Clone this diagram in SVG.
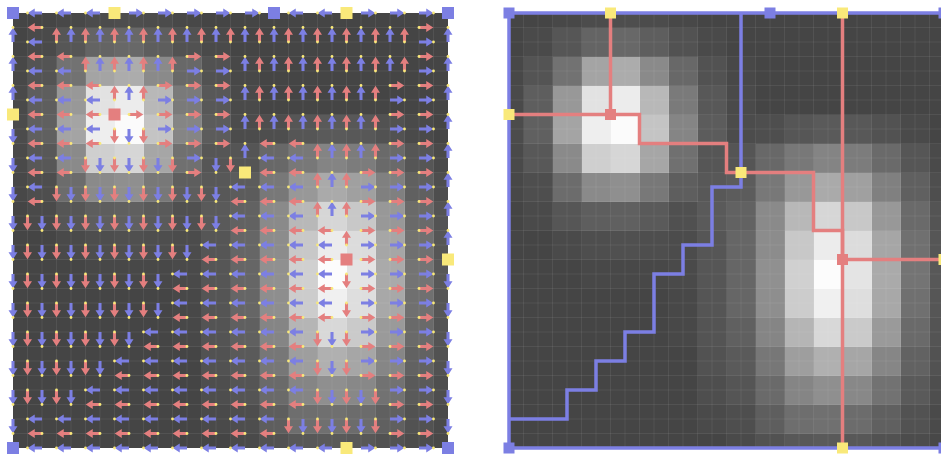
<svg xmlns="http://www.w3.org/2000/svg" width="941" height="455" viewBox="0 0 941 455">
<style>
.bl{fill:#7c7fe3}
.rd{fill:#e47f7f}
.ye{fill:#f9e97a}
.grid{fill:none;stroke:#ffffff;stroke-opacity:.07;stroke-width:1}
.msb{fill:none;stroke:#7c7fe3;stroke-width:3.5}
.msr{fill:none;stroke:#e47f7f;stroke-width:3.5}
</style>
<defs>
<clipPath id="cl"><rect x="13" y="13" width="435" height="435"/></clipPath>
<clipPath id="cr"><rect x="509" y="13" width="435" height="435"/></clipPath>
<g id="img" shape-rendering="crispEdges">
<rect x="-14.5" y="-14.5" width="464" height="464" fill="#454545"/>
<g transform="translate(0 -14.5)"><rect x="43.5" width="29" height="29" fill="#484848"/><rect x="72.5" width="29" height="29" fill="#4c4c4c"/><rect x="101.5" width="29" height="29" fill="#4e4e4e"/><rect x="130.5" width="29" height="29" fill="#4c4c4c"/><rect x="159.5" width="29" height="29" fill="#484848"/></g>
<g transform="translate(0 14.5)"><rect x="14.5" width="29" height="29" fill="#4a4a4a"/><rect x="43.5" width="29" height="29" fill="#565656"/><rect x="72.5" width="29" height="29" fill="#646464"/><rect x="101.5" width="29" height="29" fill="#686868"/><rect x="130.5" width="29" height="29" fill="#5e5e5e"/><rect x="159.5" width="29" height="29" fill="#525252"/><rect x="188.5" width="29" height="29" fill="#4a4a4a"/></g>
<g transform="translate(0 43.5)"><rect x="-14.5" width="29" height="29" fill="#484848"/><rect x="14.5" width="29" height="29" fill="#545454"/><rect x="43.5" width="29" height="29" fill="#727272"/><rect x="72.5" width="29" height="29" fill="#a4a4a4"/><rect x="101.5" width="29" height="29" fill="#acacac"/><rect x="130.5" width="29" height="29" fill="#8a8a8a"/><rect x="159.5" width="29" height="29" fill="#686868"/><rect x="188.5" width="29" height="29" fill="#525252"/><rect x="217.5" width="29" height="29" fill="#484848"/></g>
<g transform="translate(0 72.5)"><rect x="-14.5" width="29" height="29" fill="#4a4a4a"/><rect x="14.5" width="29" height="29" fill="#5e5e5e"/><rect x="43.5" width="29" height="29" fill="#989898"/><rect x="72.5" width="29" height="29" fill="#e2e2e2"/><rect x="101.5" width="29" height="29" fill="#ececec"/><rect x="130.5" width="29" height="29" fill="#b8b8b8"/><rect x="159.5" width="29" height="29" fill="#7a7a7a"/><rect x="188.5" width="29" height="29" fill="#585858"/><rect x="217.5" width="29" height="29" fill="#4a4a4a"/></g>
<g transform="translate(0 101.5)"><rect x="-14.5" width="29" height="29" fill="#4c4c4c"/><rect x="14.5" width="29" height="29" fill="#606060"/><rect x="43.5" width="29" height="29" fill="#a4a4a4"/><rect x="72.5" width="29" height="29" fill="#eeeeee"/><rect x="101.5" width="29" height="29" fill="#fbfbfb"/><rect x="130.5" width="29" height="29" fill="#c4c4c4"/><rect x="159.5" width="29" height="29" fill="#858585"/><rect x="188.5" width="29" height="29" fill="#5c5c5c"/><rect x="217.5" width="29" height="29" fill="#4c4c4c"/><rect x="246.5" width="29" height="29" fill="#4e4e4e"/><rect x="275.5" width="29" height="29" fill="#565656"/><rect x="304.5" width="29" height="29" fill="#5a5a5a"/><rect x="333.5" width="29" height="29" fill="#585858"/><rect x="362.5" width="29" height="29" fill="#525252"/><rect x="391.5" width="29" height="29" fill="#4a4a4a"/></g>
<g transform="translate(0 130.5)"><rect x="-14.5" width="29" height="29" fill="#4a4a4a"/><rect x="14.5" width="29" height="29" fill="#585858"/><rect x="43.5" width="29" height="29" fill="#8a8a8a"/><rect x="72.5" width="29" height="29" fill="#cfcfcf"/><rect x="101.5" width="29" height="29" fill="#d6d6d6"/><rect x="130.5" width="29" height="29" fill="#a6a6a6"/><rect x="159.5" width="29" height="29" fill="#707070"/><rect x="188.5" width="29" height="29" fill="#565656"/><rect x="217.5" width="29" height="29" fill="#555555"/><rect x="246.5" width="29" height="29" fill="#686868"/><rect x="275.5" width="29" height="29" fill="#787878"/><rect x="304.5" width="29" height="29" fill="#848484"/><rect x="333.5" width="29" height="29" fill="#7c7c7c"/><rect x="362.5" width="29" height="29" fill="#6a6a6a"/><rect x="391.5" width="29" height="29" fill="#565656"/><rect x="420.5" width="29" height="29" fill="#4a4a4a"/></g>
<g transform="translate(0 159.5)"><rect x="-14.5" width="29" height="29" fill="#484848"/><rect x="14.5" width="29" height="29" fill="#4e4e4e"/><rect x="43.5" width="29" height="29" fill="#6c6c6c"/><rect x="72.5" width="29" height="29" fill="#8a8a8a"/><rect x="101.5" width="29" height="29" fill="#8f8f8f"/><rect x="130.5" width="29" height="29" fill="#787878"/><rect x="159.5" width="29" height="29" fill="#5e5e5e"/><rect x="188.5" width="29" height="29" fill="#585858"/><rect x="217.5" width="29" height="29" fill="#5c5c5c"/><rect x="246.5" width="29" height="29" fill="#787878"/><rect x="275.5" width="29" height="29" fill="#989898"/><rect x="304.5" width="29" height="29" fill="#aaaaaa"/><rect x="333.5" width="29" height="29" fill="#a0a0a0"/><rect x="362.5" width="29" height="29" fill="#808080"/><rect x="391.5" width="29" height="29" fill="#606060"/><rect x="420.5" width="29" height="29" fill="#4e4e4e"/></g>
<g transform="translate(0 188.5)"><rect x="14.5" width="29" height="29" fill="#4a4a4a"/><rect x="43.5" width="29" height="29" fill="#565656"/><rect x="72.5" width="29" height="29" fill="#5e5e5e"/><rect x="101.5" width="29" height="29" fill="#606060"/><rect x="130.5" width="29" height="29" fill="#5a5a5a"/><rect x="159.5" width="29" height="29" fill="#505050"/><rect x="188.5" width="29" height="29" fill="#5a5a5a"/><rect x="217.5" width="29" height="29" fill="#626262"/><rect x="246.5" width="29" height="29" fill="#8a8a8a"/><rect x="275.5" width="29" height="29" fill="#b8b8b8"/><rect x="304.5" width="29" height="29" fill="#d6d6d6"/><rect x="333.5" width="29" height="29" fill="#c8c8c8"/><rect x="362.5" width="29" height="29" fill="#989898"/><rect x="391.5" width="29" height="29" fill="#6a6a6a"/><rect x="420.5" width="29" height="29" fill="#545454"/></g>
<g transform="translate(0 217.5)"><rect x="43.5" width="29" height="29" fill="#4a4a4a"/><rect x="72.5" width="29" height="29" fill="#4e4e4e"/><rect x="101.5" width="29" height="29" fill="#505050"/><rect x="130.5" width="29" height="29" fill="#4e4e4e"/><rect x="159.5" width="29" height="29" fill="#4c4c4c"/><rect x="188.5" width="29" height="29" fill="#565656"/><rect x="217.5" width="29" height="29" fill="#666666"/><rect x="246.5" width="29" height="29" fill="#8c8c8c"/><rect x="275.5" width="29" height="29" fill="#c8c8c8"/><rect x="304.5" width="29" height="29" fill="#ececec"/><rect x="333.5" width="29" height="29" fill="#dcdcdc"/><rect x="362.5" width="29" height="29" fill="#a6a6a6"/><rect x="391.5" width="29" height="29" fill="#707070"/><rect x="420.5" width="29" height="29" fill="#565656"/></g>
<g transform="translate(0 246.5)"><rect x="72.5" width="29" height="29" fill="#484848"/><rect x="101.5" width="29" height="29" fill="#484848"/><rect x="130.5" width="29" height="29" fill="#484848"/><rect x="159.5" width="29" height="29" fill="#4a4a4a"/><rect x="188.5" width="29" height="29" fill="#565656"/><rect x="217.5" width="29" height="29" fill="#666666"/><rect x="246.5" width="29" height="29" fill="#909090"/><rect x="275.5" width="29" height="29" fill="#d0d0d0"/><rect x="304.5" width="29" height="29" fill="#fcfcfc"/><rect x="333.5" width="29" height="29" fill="#e4e4e4"/><rect x="362.5" width="29" height="29" fill="#aaaaaa"/><rect x="391.5" width="29" height="29" fill="#747474"/><rect x="420.5" width="29" height="29" fill="#585858"/></g>
<g transform="translate(0 275.5)"><rect x="159.5" width="29" height="29" fill="#484848"/><rect x="188.5" width="29" height="29" fill="#555555"/><rect x="217.5" width="29" height="29" fill="#666666"/><rect x="246.5" width="29" height="29" fill="#8e8e8e"/><rect x="275.5" width="29" height="29" fill="#cccccc"/><rect x="304.5" width="29" height="29" fill="#f0f0f0"/><rect x="333.5" width="29" height="29" fill="#dedede"/><rect x="362.5" width="29" height="29" fill="#a8a8a8"/><rect x="391.5" width="29" height="29" fill="#707070"/><rect x="420.5" width="29" height="29" fill="#565656"/></g>
<g transform="translate(0 304.5)"><rect x="159.5" width="29" height="29" fill="#484848"/><rect x="188.5" width="29" height="29" fill="#545454"/><rect x="217.5" width="29" height="29" fill="#606060"/><rect x="246.5" width="29" height="29" fill="#858585"/><rect x="275.5" width="29" height="29" fill="#b5b5b5"/><rect x="304.5" width="29" height="29" fill="#d8d8d8"/><rect x="333.5" width="29" height="29" fill="#cacaca"/><rect x="362.5" width="29" height="29" fill="#9a9a9a"/><rect x="391.5" width="29" height="29" fill="#6a6a6a"/><rect x="420.5" width="29" height="29" fill="#545454"/></g>
<g transform="translate(0 333.5)"><rect x="188.5" width="29" height="29" fill="#525252"/><rect x="217.5" width="29" height="29" fill="#5a5a5a"/><rect x="246.5" width="29" height="29" fill="#777777"/><rect x="275.5" width="29" height="29" fill="#9e9e9e"/><rect x="304.5" width="29" height="29" fill="#b0b0b0"/><rect x="333.5" width="29" height="29" fill="#a6a6a6"/><rect x="362.5" width="29" height="29" fill="#868686"/><rect x="391.5" width="29" height="29" fill="#626262"/><rect x="420.5" width="29" height="29" fill="#525252"/></g>
<g transform="translate(0 362.5)"><rect x="188.5" width="29" height="29" fill="#4e4e4e"/><rect x="217.5" width="29" height="29" fill="#555555"/><rect x="246.5" width="29" height="29" fill="#6a6a6a"/><rect x="275.5" width="29" height="29" fill="#858585"/><rect x="304.5" width="29" height="29" fill="#8f8f8f"/><rect x="333.5" width="29" height="29" fill="#888888"/><rect x="362.5" width="29" height="29" fill="#727272"/><rect x="391.5" width="29" height="29" fill="#5a5a5a"/><rect x="420.5" width="29" height="29" fill="#4e4e4e"/></g>
<g transform="translate(0 391.5)"><rect x="188.5" width="29" height="29" fill="#4a4a4a"/><rect x="217.5" width="29" height="29" fill="#4e4e4e"/><rect x="246.5" width="29" height="29" fill="#5e5e5e"/><rect x="275.5" width="29" height="29" fill="#6e6e6e"/><rect x="304.5" width="29" height="29" fill="#707070"/><rect x="333.5" width="29" height="29" fill="#6c6c6c"/><rect x="362.5" width="29" height="29" fill="#606060"/><rect x="391.5" width="29" height="29" fill="#525252"/><rect x="420.5" width="29" height="29" fill="#4a4a4a"/></g>
<g transform="translate(0 420.5)"><rect x="217.5" width="29" height="29" fill="#4a4a4a"/><rect x="246.5" width="29" height="29" fill="#525252"/><rect x="275.5" width="29" height="29" fill="#585858"/><rect x="304.5" width="29" height="29" fill="#5a5a5a"/><rect x="333.5" width="29" height="29" fill="#585858"/><rect x="362.5" width="29" height="29" fill="#525252"/><rect x="391.5" width="29" height="29" fill="#4c4c4c"/><rect x="420.5" width="29" height="29" fill="#484848"/></g>
</g>
<path id="gl" class="grid" d="M14.5 0V435M29 0V435M43.5 0V435M58 0V435M72.5 0V435M87 0V435M101.5 0V435M116 0V435M130.5 0V435M145 0V435M159.5 0V435M174 0V435M188.5 0V435M203 0V435M217.5 0V435M232 0V435M246.5 0V435M261 0V435M275.5 0V435M290 0V435M304.5 0V435M319 0V435M333.5 0V435M348 0V435M362.5 0V435M377 0V435M391.5 0V435M406 0V435M420.5 0V435M0 14.5H435M0 29H435M0 43.5H435M0 58H435M0 72.5H435M0 87H435M0 101.5H435M0 116H435M0 130.5H435M0 145H435M0 159.5H435M0 174H435M0 188.5H435M0 203H435M0 217.5H435M0 232H435M0 246.5H435M0 261H435M0 275.5H435M0 290H435M0 304.5H435M0 319H435M0 333.5H435M0 348H435M0 362.5H435M0 377H435M0 391.5H435M0 406H435M0 420.5H435"/>
<path id="l" d="M0-.105H-.5V-.31L-.985 0-.5.31V.105H0Z"/>
<path id="r" d="M0-.105H.5V-.31L.985 0 .5.31V.105H0Z"/>
<path id="u" d="M-.105 0V-.5H-.31L0-.985 .31-.5H.105V0Z"/>
<path id="d" d="M-.105 0V.5H-.31L0 .985 .31.5H.105V0Z"/>
<path id="L" d="M1-.105H.5V-.31L.015 0 .5.31V.105H1Z"/>
<path id="R" d="M-1-.105H-.5V-.31L-.015 0-.5.31V.105H-1Z"/>
<path id="U" d="M-.105 1V.5H-.31L0 .015 .31.5H.105V1Z"/>
<path id="D" d="M-.105-1V-.5H-.31L0-.015 .31-.5H.105V-1Z"/>
<rect id="m" x="-6" y="-6" width="12" height="12"/>
<rect id="n" x="-5.5" y="-5.5" width="11" height="11"/>
<pattern id="dots" patternUnits="userSpaceOnUse" x="13" y="13" width="29" height="29">
<g class="ye"><circle cx="14.5" cy="0" r="1.4"/><circle cx="14.5" cy="29" r="1.4"/><circle cx="0" cy="14.5" r="1.4"/><circle cx="29" cy="14.5" r="1.4"/></g>
</pattern>
</defs>
<rect width="941" height="455" fill="#ffffff"/>
<g id="gradient-field">
<g id="left-image" clip-path="url(#cl)"><use href="#img" x="13" y="13"/><use href="#gl" x="13" y="13"/></g>
<g id="arrows" transform="translate(13 13) scale(14.5)">
<g id="vertex-edge-arrows" class="bl">
<g><use href="#l" x="2"/><use href="#l" x="4"/><use href="#l" x="6"/><use href="#r" x="8"/><use href="#r" x="10"/><use href="#r" x="12"/><use href="#r" x="14"/><use href="#r" x="16"/><use href="#l" x="20"/><use href="#l" x="22"/><use href="#r" x="24"/><use href="#r" x="26"/><use href="#r" x="28"/></g>
<g transform="translate(0 2)"><use href="#u" x="0"/><use href="#l" x="2"/><use href="#u" x="4"/><use href="#u" x="6"/><use href="#u" x="8"/><use href="#u" x="10"/><use href="#u" x="12"/><use href="#u" x="14"/><use href="#u" x="16"/><use href="#u" x="18"/><use href="#u" x="20"/><use href="#u" x="22"/><use href="#u" x="24"/><use href="#u" x="26"/><use href="#r" x="28"/><use href="#u" x="30"/></g>
<g transform="translate(0 4)"><use href="#u" x="0"/><use href="#l" x="2"/><use href="#l" x="4"/><use href="#u" x="6"/><use href="#u" x="8"/><use href="#u" x="10"/><use href="#r" x="12"/><use href="#r" x="14"/><use href="#u" x="16"/><use href="#u" x="18"/><use href="#u" x="20"/><use href="#u" x="22"/><use href="#u" x="24"/><use href="#u" x="26"/><use href="#r" x="28"/><use href="#u" x="30"/></g>
<g transform="translate(0 6)"><use href="#u" x="0"/><use href="#l" x="2"/><use href="#l" x="4"/><use href="#l" x="6"/><use href="#u" x="8"/><use href="#r" x="10"/><use href="#r" x="12"/><use href="#r" x="14"/><use href="#u" x="16"/><use href="#u" x="18"/><use href="#u" x="20"/><use href="#u" x="22"/><use href="#u" x="24"/><use href="#r" x="26"/><use href="#r" x="28"/><use href="#u" x="30"/></g>
<g transform="translate(0 8)"><use href="#d" x="0"/><use href="#l" x="2"/><use href="#l" x="4"/><use href="#l" x="6"/><use href="#d" x="8"/><use href="#r" x="10"/><use href="#r" x="12"/><use href="#r" x="14"/><use href="#u" x="16"/><use href="#u" x="18"/><use href="#u" x="20"/><use href="#u" x="22"/><use href="#u" x="24"/><use href="#r" x="26"/><use href="#r" x="28"/><use href="#u" x="30"/></g>
<g transform="translate(0 10)"><use href="#d" x="0"/><use href="#l" x="2"/><use href="#l" x="4"/><use href="#d" x="6"/><use href="#d" x="8"/><use href="#d" x="10"/><use href="#r" x="12"/><use href="#d" x="14"/><use href="#u" x="16"/><use href="#l" x="18"/><use href="#l" x="20"/><use href="#u" x="22"/><use href="#u" x="24"/><use href="#r" x="26"/><use href="#r" x="28"/><use href="#u" x="30"/></g>
<g transform="translate(0 12)"><use href="#d" x="0"/><use href="#l" x="2"/><use href="#d" x="4"/><use href="#d" x="6"/><use href="#d" x="8"/><use href="#d" x="10"/><use href="#d" x="12"/><use href="#d" x="14"/><use href="#l" x="16"/><use href="#l" x="18"/><use href="#l" x="20"/><use href="#u" x="22"/><use href="#r" x="24"/><use href="#r" x="26"/><use href="#r" x="28"/><use href="#u" x="30"/></g>
<g transform="translate(0 14)"><use href="#d" x="0"/><use href="#d" x="2"/><use href="#d" x="4"/><use href="#d" x="6"/><use href="#d" x="8"/><use href="#d" x="10"/><use href="#d" x="12"/><use href="#d" x="14"/><use href="#l" x="16"/><use href="#l" x="18"/><use href="#l" x="20"/><use href="#u" x="22"/><use href="#r" x="24"/><use href="#r" x="26"/><use href="#r" x="28"/><use href="#u" x="30"/></g>
<g transform="translate(0 16)"><use href="#d" x="0"/><use href="#d" x="2"/><use href="#d" x="4"/><use href="#d" x="6"/><use href="#d" x="8"/><use href="#d" x="10"/><use href="#d" x="12"/><use href="#l" x="14"/><use href="#l" x="16"/><use href="#l" x="18"/><use href="#l" x="20"/><use href="#l" x="22"/><use href="#r" x="24"/><use href="#r" x="26"/><use href="#r" x="28"/><use href="#u" x="30"/></g>
<g transform="translate(0 18)"><use href="#d" x="0"/><use href="#d" x="2"/><use href="#d" x="4"/><use href="#d" x="6"/><use href="#d" x="8"/><use href="#d" x="10"/><use href="#l" x="12"/><use href="#l" x="14"/><use href="#l" x="16"/><use href="#l" x="18"/><use href="#l" x="20"/><use href="#l" x="22"/><use href="#r" x="24"/><use href="#r" x="26"/><use href="#r" x="28"/><use href="#d" x="30"/></g>
<g transform="translate(0 20)"><use href="#d" x="0"/><use href="#d" x="2"/><use href="#d" x="4"/><use href="#d" x="6"/><use href="#d" x="8"/><use href="#d" x="10"/><use href="#l" x="12"/><use href="#l" x="14"/><use href="#l" x="16"/><use href="#l" x="18"/><use href="#l" x="20"/><use href="#l" x="22"/><use href="#r" x="24"/><use href="#r" x="26"/><use href="#r" x="28"/><use href="#d" x="30"/></g>
<g transform="translate(0 22)"><use href="#d" x="0"/><use href="#d" x="2"/><use href="#d" x="4"/><use href="#d" x="6"/><use href="#d" x="8"/><use href="#l" x="10"/><use href="#l" x="12"/><use href="#l" x="14"/><use href="#l" x="16"/><use href="#l" x="18"/><use href="#l" x="20"/><use href="#d" x="22"/><use href="#r" x="24"/><use href="#r" x="26"/><use href="#r" x="28"/><use href="#d" x="30"/></g>
<g transform="translate(0 24)"><use href="#d" x="0"/><use href="#d" x="2"/><use href="#d" x="4"/><use href="#d" x="6"/><use href="#l" x="8"/><use href="#l" x="10"/><use href="#l" x="12"/><use href="#l" x="14"/><use href="#l" x="16"/><use href="#l" x="18"/><use href="#l" x="20"/><use href="#d" x="22"/><use href="#r" x="24"/><use href="#r" x="26"/><use href="#r" x="28"/><use href="#d" x="30"/></g>
<g transform="translate(0 26)"><use href="#d" x="0"/><use href="#d" x="2"/><use href="#d" x="4"/><use href="#l" x="6"/><use href="#l" x="8"/><use href="#l" x="10"/><use href="#l" x="12"/><use href="#l" x="14"/><use href="#l" x="16"/><use href="#l" x="18"/><use href="#l" x="20"/><use href="#d" x="22"/><use href="#d" x="24"/><use href="#r" x="26"/><use href="#r" x="28"/><use href="#d" x="30"/></g>
<g transform="translate(0 28)"><use href="#d" x="0"/><use href="#l" x="2"/><use href="#l" x="4"/><use href="#l" x="6"/><use href="#l" x="8"/><use href="#l" x="10"/><use href="#l" x="12"/><use href="#l" x="14"/><use href="#l" x="16"/><use href="#l" x="18"/><use href="#d" x="20"/><use href="#d" x="22"/><use href="#d" x="24"/><use href="#r" x="26"/><use href="#r" x="28"/><use href="#d" x="30"/></g>
<g transform="translate(0 30)"><use href="#l" x="2"/><use href="#l" x="4"/><use href="#l" x="6"/><use href="#l" x="8"/><use href="#l" x="10"/><use href="#l" x="12"/><use href="#l" x="14"/><use href="#l" x="16"/><use href="#l" x="18"/><use href="#l" x="20"/><use href="#l" x="22"/><use href="#r" x="24"/><use href="#r" x="26"/><use href="#r" x="28"/></g>
</g>
<g id="edge-square-arrows" class="rd">
<g transform="translate(0 1)"><use href="#L" x="1"/><use href="#U" x="3"/><use href="#U" x="5"/><use href="#U" x="7"/><use href="#U" x="9"/><use href="#U" x="11"/><use href="#U" x="13"/><use href="#U" x="15"/><use href="#U" x="17"/><use href="#U" x="19"/><use href="#U" x="21"/><use href="#U" x="23"/><use href="#U" x="25"/><use href="#U" x="27"/><use href="#R" x="29"/></g>
<g transform="translate(0 3)"><use href="#L" x="1"/><use href="#L" x="3"/><use href="#U" x="5"/><use href="#U" x="7"/><use href="#U" x="9"/><use href="#U" x="11"/><use href="#R" x="13"/><use href="#R" x="15"/><use href="#U" x="17"/><use href="#U" x="19"/><use href="#U" x="21"/><use href="#U" x="23"/><use href="#U" x="25"/><use href="#U" x="27"/><use href="#R" x="29"/></g>
<g transform="translate(0 5)"><use href="#L" x="1"/><use href="#L" x="3"/><use href="#L" x="5"/><use href="#U" x="7"/><use href="#U" x="9"/><use href="#R" x="11"/><use href="#R" x="13"/><use href="#R" x="15"/><use href="#U" x="17"/><use href="#U" x="19"/><use href="#U" x="21"/><use href="#U" x="23"/><use href="#U" x="25"/><use href="#R" x="27"/><use href="#R" x="29"/></g>
<g transform="translate(0 7)"><use href="#L" x="1"/><use href="#L" x="3"/><use href="#L" x="5"/><use href="#R" x="9"/><use href="#R" x="11"/><use href="#R" x="13"/><use href="#R" x="15"/><use href="#U" x="17"/><use href="#U" x="19"/><use href="#U" x="21"/><use href="#U" x="23"/><use href="#U" x="25"/><use href="#R" x="27"/><use href="#R" x="29"/></g>
<g transform="translate(0 9)"><use href="#L" x="1"/><use href="#L" x="3"/><use href="#L" x="5"/><use href="#D" x="7"/><use href="#D" x="9"/><use href="#R" x="11"/><use href="#R" x="13"/><use href="#R" x="15"/><use href="#L" x="17"/><use href="#L" x="19"/><use href="#U" x="21"/><use href="#U" x="23"/><use href="#U" x="25"/><use href="#R" x="27"/><use href="#R" x="29"/></g>
<g transform="translate(0 11)"><use href="#L" x="1"/><use href="#L" x="3"/><use href="#D" x="5"/><use href="#D" x="7"/><use href="#D" x="9"/><use href="#D" x="11"/><use href="#R" x="13"/><use href="#D" x="15"/><use href="#L" x="17"/><use href="#L" x="19"/><use href="#U" x="21"/><use href="#U" x="23"/><use href="#R" x="25"/><use href="#R" x="27"/><use href="#R" x="29"/></g>
<g transform="translate(0 13)"><use href="#L" x="1"/><use href="#D" x="3"/><use href="#D" x="5"/><use href="#D" x="7"/><use href="#D" x="9"/><use href="#D" x="11"/><use href="#D" x="13"/><use href="#L" x="15"/><use href="#L" x="17"/><use href="#L" x="19"/><use href="#U" x="21"/><use href="#U" x="23"/><use href="#R" x="25"/><use href="#R" x="27"/><use href="#R" x="29"/></g>
<g transform="translate(0 15)"><use href="#D" x="1"/><use href="#D" x="3"/><use href="#D" x="5"/><use href="#D" x="7"/><use href="#D" x="9"/><use href="#D" x="11"/><use href="#D" x="13"/><use href="#L" x="15"/><use href="#L" x="17"/><use href="#L" x="19"/><use href="#L" x="21"/><use href="#U" x="23"/><use href="#R" x="25"/><use href="#R" x="27"/><use href="#R" x="29"/></g>
<g transform="translate(0 17)"><use href="#D" x="1"/><use href="#D" x="3"/><use href="#D" x="5"/><use href="#D" x="7"/><use href="#D" x="9"/><use href="#D" x="11"/><use href="#L" x="13"/><use href="#L" x="15"/><use href="#L" x="17"/><use href="#L" x="19"/><use href="#L" x="21"/><use href="#R" x="25"/><use href="#R" x="27"/><use href="#R" x="29"/></g>
<g transform="translate(0 19)"><use href="#D" x="1"/><use href="#D" x="3"/><use href="#D" x="5"/><use href="#D" x="7"/><use href="#D" x="9"/><use href="#L" x="11"/><use href="#L" x="13"/><use href="#L" x="15"/><use href="#L" x="17"/><use href="#L" x="19"/><use href="#L" x="21"/><use href="#D" x="23"/><use href="#R" x="25"/><use href="#R" x="27"/><use href="#R" x="29"/></g>
<g transform="translate(0 21)"><use href="#D" x="1"/><use href="#D" x="3"/><use href="#D" x="5"/><use href="#D" x="7"/><use href="#D" x="9"/><use href="#L" x="11"/><use href="#L" x="13"/><use href="#L" x="15"/><use href="#L" x="17"/><use href="#L" x="19"/><use href="#L" x="21"/><use href="#D" x="23"/><use href="#R" x="25"/><use href="#R" x="27"/><use href="#R" x="29"/></g>
<g transform="translate(0 23)"><use href="#D" x="1"/><use href="#D" x="3"/><use href="#D" x="5"/><use href="#D" x="7"/><use href="#L" x="9"/><use href="#L" x="11"/><use href="#L" x="13"/><use href="#L" x="15"/><use href="#L" x="17"/><use href="#L" x="19"/><use href="#D" x="21"/><use href="#D" x="23"/><use href="#R" x="25"/><use href="#R" x="27"/><use href="#R" x="29"/></g>
<g transform="translate(0 25)"><use href="#D" x="1"/><use href="#D" x="3"/><use href="#D" x="5"/><use href="#L" x="7"/><use href="#L" x="9"/><use href="#L" x="11"/><use href="#L" x="13"/><use href="#L" x="15"/><use href="#L" x="17"/><use href="#L" x="19"/><use href="#D" x="21"/><use href="#D" x="23"/><use href="#R" x="25"/><use href="#R" x="27"/><use href="#R" x="29"/></g>
<g transform="translate(0 27)"><use href="#D" x="1"/><use href="#D" x="3"/><use href="#L" x="5"/><use href="#L" x="7"/><use href="#L" x="9"/><use href="#L" x="11"/><use href="#L" x="13"/><use href="#L" x="15"/><use href="#L" x="17"/><use href="#L" x="19"/><use href="#D" x="21"/><use href="#D" x="23"/><use href="#D" x="25"/><use href="#R" x="27"/><use href="#R" x="29"/></g>
<g transform="translate(0 29)"><use href="#L" x="1"/><use href="#L" x="3"/><use href="#L" x="5"/><use href="#L" x="7"/><use href="#L" x="9"/><use href="#L" x="11"/><use href="#L" x="13"/><use href="#L" x="15"/><use href="#L" x="17"/><use href="#D" x="19"/><use href="#D" x="21"/><use href="#D" x="23"/><use href="#D" x="25"/><use href="#R" x="27"/><use href="#R" x="29"/></g>
</g>
</g>
<rect id="edge-dots" x="11" y="11" width="439" height="439" fill="url(#dots)"/>
<g id="left-critical">
<g class="bl"><use href="#m" x="13" y="13"/><use href="#m" x="274" y="13"/><use href="#m" x="448" y="13"/><use href="#m" x="13" y="448"/><use href="#m" x="448" y="448"/></g>
<g class="ye"><use href="#m" x="114.5" y="13"/><use href="#m" x="346.5" y="13"/><use href="#m" x="13" y="114.5"/><use href="#m" x="245" y="172.5"/><use href="#m" x="448" y="259.5"/><use href="#m" x="346.5" y="448"/></g>
<g class="rd"><use href="#m" x="114.5" y="114.5"/><use href="#m" x="346.5" y="259.5"/></g>
</g>
</g>
<g id="morse-smale">
<g id="right-image" clip-path="url(#cr)"><use href="#img" x="509" y="13"/><use href="#gl" x="509" y="13"/></g>
<g id="connectors">
<rect class="msb" x="509" y="13" width="435" height="435"/>
<path class="msb" d="M741 13V187H712V245H683V274H654V332H625V361H596V390H567V419H509"/>
<path class="msr" d="M610.5 13V114.5H509"/>
<path class="msr" d="M610.5 114.5H639.5V143.5H726.5V172.5H813.5V230.5H842.5V259.5"/>
<path class="msr" d="M842.5 13V448M842.5 259.5H944"/>
</g>
<g id="right-critical">
<g class="bl"><use href="#n" x="509" y="13"/><use href="#n" x="770" y="13"/><use href="#n" x="944" y="13"/><use href="#n" x="509" y="448"/><use href="#n" x="944" y="448"/></g>
<g class="ye"><use href="#n" x="610.5" y="13"/><use href="#n" x="842.5" y="13"/><use href="#n" x="509" y="114.5"/><use href="#n" x="741" y="172.5"/><use href="#n" x="944" y="259.5"/><use href="#n" x="842.5" y="448"/></g>
<g class="rd"><use href="#n" x="610.5" y="114.5"/><use href="#n" x="842.5" y="259.5"/></g>
</g>
</g>
</svg>
